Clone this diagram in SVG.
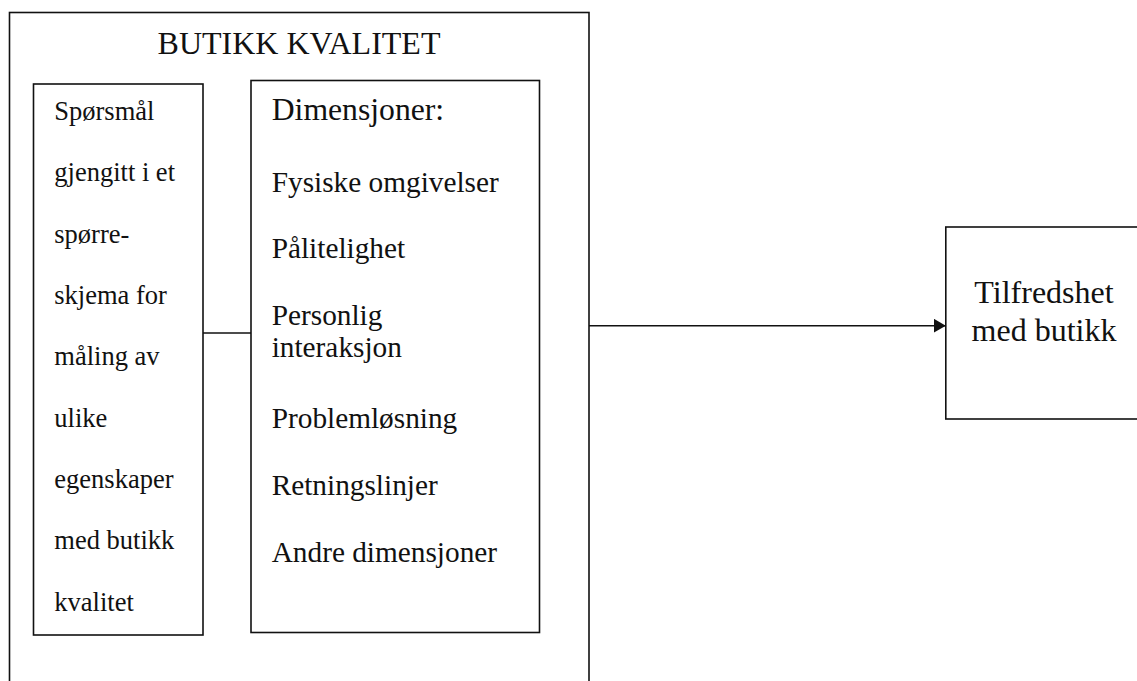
<svg xmlns="http://www.w3.org/2000/svg" width="1137" height="681" viewBox="0 0 1137 681">
<style>
.box{fill:#fff;stroke:#111;stroke-width:1.6}
.ln{fill:none;stroke:#111;stroke-width:1.6}
text{font-family:"Liberation Serif","Times New Roman",serif;fill:#111}
.l{font-size:26.5px}
.m{font-size:29.3px}
.d{font-size:31.7px}
.r{font-size:32px}
.t{font-size:32px}
</style>
<defs>
<marker id="arr" markerWidth="12" markerHeight="14" refX="12" refY="7" orient="auto" markerUnits="userSpaceOnUse">
<path d="M0,0 L12,7 L0,14 Z" fill="#111"/>
</marker>
</defs>
<rect width="1137" height="681" fill="#fff"/>
<g id="outer">
<rect class="box" x="9.5" y="12.5" width="579.5" height="700"/>
<text class="t" x="299" y="54" text-anchor="middle">BUTIKK KVALITET</text>
</g>
<g id="questions">
<rect class="box" x="33.5" y="84" width="169.5" height="551"/>
<text class="l" x="54.3" y="120">Spørsmål</text>
<text class="l" x="54.3" y="181.3">gjengitt i et</text>
<text class="l" x="54.3" y="242.7">spørre-</text>
<text class="l" x="54.3" y="304">skjema for</text>
<text class="l" x="54.3" y="365.3">måling av</text>
<text class="l" x="54.3" y="426.7">ulike</text>
<text class="l" x="54.3" y="488">egenskaper</text>
<text class="l" x="54.3" y="549.3">med butikk</text>
<text class="l" x="54.3" y="610.7">kvalitet</text>
</g>
<g id="dimensions">
<rect class="box" x="251" y="80.5" width="288.5" height="552"/>
<text class="d" x="271.7" y="120">Dimensjoner:</text>
<text class="m" x="271.7" y="191.7">Fysiske omgivelser</text>
<text class="m" x="271.7" y="258">Pålitelighet</text>
<text class="m" x="271.7" y="325">Personlig</text>
<text class="m" x="271.7" y="357">interaksjon</text>
<text class="m" x="271.7" y="428.3">Problemløsning</text>
<text class="m" x="271.7" y="495">Retningslinjer</text>
<text class="m" x="271.7" y="562.3">Andre dimensjoner</text>
</g>
<g id="satisfaction">
<rect class="box" x="945.8" y="227" width="210" height="192"/>
<text class="r" x="1044" y="303.3" text-anchor="middle">Tilfredshet</text>
<text class="r" x="1044" y="340.7" text-anchor="middle">med butikk</text>
</g>
<g id="connectors">
<line class="ln" x1="203" y1="333" x2="251" y2="333"/>
<line class="ln" x1="589" y1="325.7" x2="945.8" y2="325.7" marker-end="url(#arr)"/>
</g>
</svg>
